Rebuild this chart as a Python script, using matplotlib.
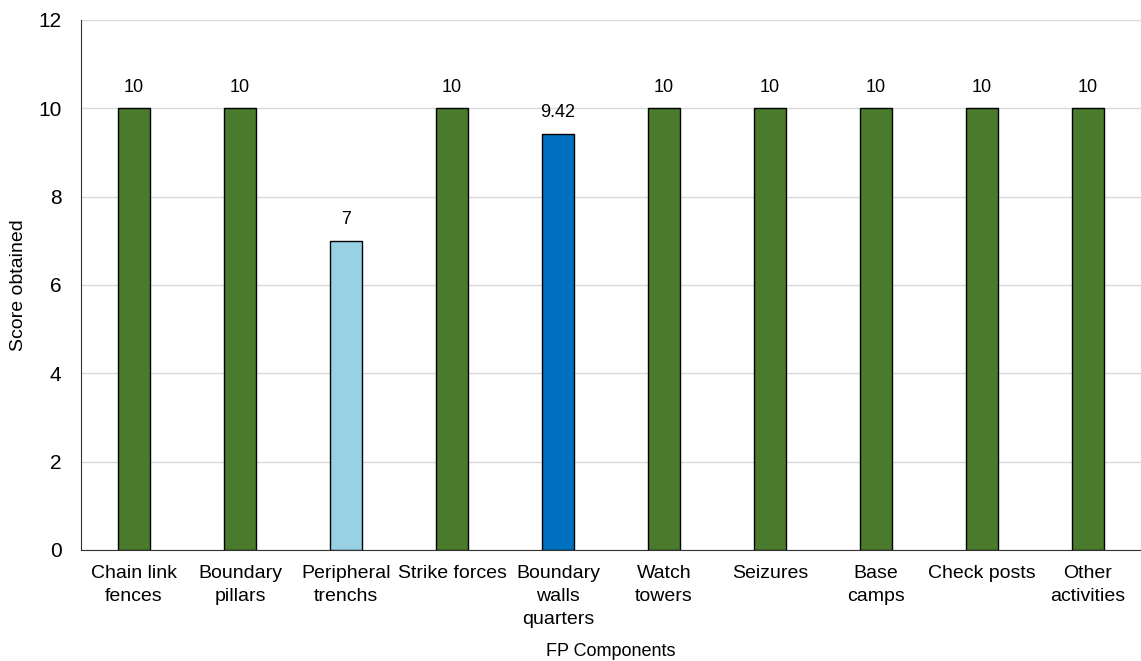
import matplotlib.pyplot as plt

plt.rcParams['font.family'] = ['Liberation Sans', 'DejaVu Sans']

components = ['Chain link\nfences', 'Boundary\npillars', 'Peripheral\ntrenchs', 'Strike forces',
              'Boundary\nwalls\nquarters', 'Watch\ntowers', 'Seizures', 'Base\ncamps',
              'Check posts', 'Other\nactivities']
scores = [10, 10, 7, 10, 9.42, 10, 10, 10, 10, 10]
score_labels = ['10', '10', '7', '10', '9.42', '10', '10', '10', '10', '10']

green = '#4a7a2b'
colors = [green, green, '#98d1e3', green, '#0070c0', green, green, green, green, green]

fig = plt.figure(figsize=(11.41, 6.61), dpi=100)
ax = fig.add_axes([0.071, 0.168, 0.929, 0.802])

x = range(len(components))
bars = ax.bar(x, scores, width=0.31, color=colors, edgecolor='black', linewidth=1, zorder=3)
for b, lab in zip(bars, score_labels):
    ax.annotate(lab, (b.get_x() + b.get_width() / 2, b.get_height()), xytext=(0, 9),
                textcoords='offset points', ha='center', va='bottom', fontsize=13)

ax.set_xlim(-0.5, len(components) - 0.5)
ax.set_ylim(0, 12)
ax.set_yticks(range(0, 13, 2))
ax.set_xticks(list(x))
ax.set_xticklabels(components, fontsize=14, linespacing=1.45)
ax.tick_params(axis='y', labelsize=15, length=0, pad=14)
ax.tick_params(axis='x', length=0, pad=11)
ax.grid(axis='y', color='#d9d9d9', linewidth=1, zorder=0)

for s in ['top', 'right']:
    ax.spines[s].set_visible(False)
ax.spines['left'].set_color('#333333')
ax.spines['bottom'].set_color('#333333')

ax.set_ylabel('Score obtained', fontsize=14, labelpad=8)
ax.set_xlabel('FP Components', fontsize=13, va='center')
ax.xaxis.set_label_coords(0.5, -0.192)

fig.savefig('out.png', dpi=100)
